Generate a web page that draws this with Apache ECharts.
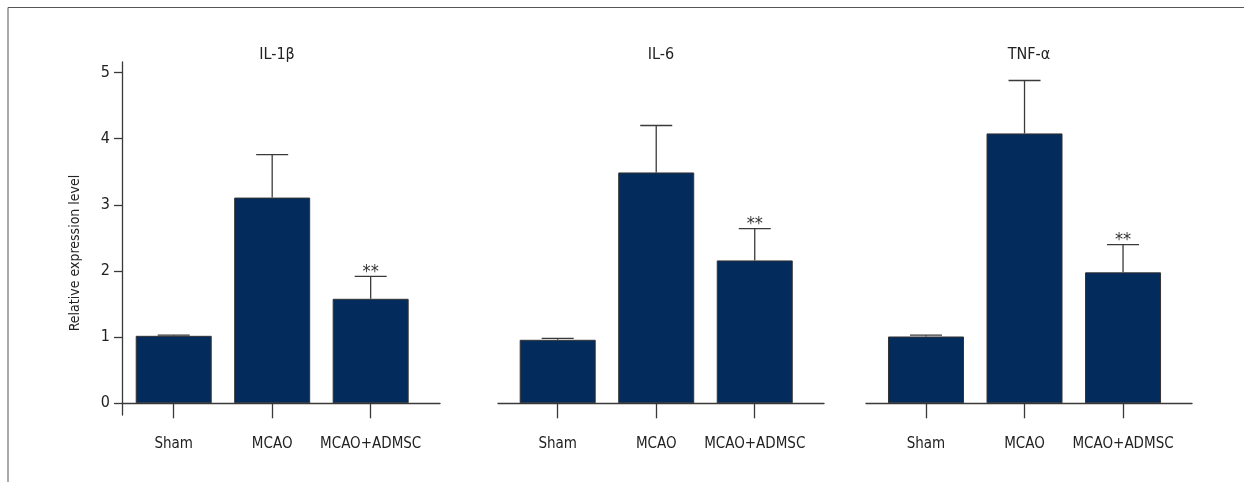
<!DOCTYPE html>
<html>
<head>
<meta charset="utf-8">
<script src="https://cdn.jsdelivr.net/npm/echarts@6/dist/echarts.min.js"></script>
<style>
  html, body { margin: 0; padding: 0; background: #fff; }
  #chart { width: 1244px; height: 482px; }
</style>
</head>
<body>
<div id="chart"></div>
<script>
const categories = ['Sham', 'MCAO', 'MCAO+ADMSC'];
const panelTitles = ['IL-1β', 'IL-6', 'TNF-α'];
const il1bMean = [1.02, 3.11, 1.58];
const il1bUpper = [1.03, 3.76, 1.92];
const il6Mean = [0.96, 3.49, 2.16];
const il6Upper = [0.98, 4.20, 2.64];
const tnfMean = [1.01, 4.08, 1.98];
const tnfUpper = [1.03, 4.88, 2.40];
const significance = ['', '', '**'];
const yTicks = [0, 1, 2, 3, 4, 5];

const FONT = "'Liberation Sans Narrow', 'DejaVu Sans Condensed', 'Roboto', sans-serif";
const AXIS_COLOR = '#3a3a3a';
const BAR_COLOR = '#032b5c';

const means = [il1bMean, il6Mean, tnfMean];
const uppers = [il1bUpper, il6Upper, tnfUpper];

// pixel layout of the three panels
const grids = [
    { left: 122, width: 318, xMin: -0.525, xMax: 2.704 },
    { left: 498, width: 326, xMin: -0.606, xMax: 2.703 },
    { left: 866, width: 326, xMin: -0.609, xMax: 2.700 }
];
const titleX = [272, 656, 1024];

const chart = echarts.init(document.getElementById('chart'));

function errorBarRender(params, api) {
    const x = api.value(0);
    const top = api.coord([x, api.value(2)]);
    const base = api.coord([x, api.value(1)]);
    const capHalf = 16;
    const style = { stroke: AXIS_COLOR, lineWidth: 1.3 };
    const children = [
        { type: 'line', shape: { x1: base[0], y1: base[1], x2: top[0], y2: top[1] }, style },
        { type: 'line', shape: { x1: top[0] - capHalf, y1: top[1], x2: top[0] + capHalf, y2: top[1] }, style }
    ];
    const star = significance[api.value(3)];
    if (star) {
        children.push({
            type: 'text',
            x: top[0], y: top[1] - 4,
            style: { text: star, fill: '#333', font: '18px ' + FONT, align: 'center', verticalAlign: 'middle' }
        });
    }
    return { type: 'group', children };
}

const option = {
    animation: false,
    backgroundColor: '#fff',
    title: panelTitles.map((t, i) => ({
        text: t,
        left: titleX[i],
        top: 42,
        textAlign: 'center',
        textStyle: { fontFamily: FONT, fontSize: 16, fontWeight: 'normal', color: '#222' }
    })),
    grid: grids.map(g => ({ left: g.left, width: g.width, top: 62, bottom: 67 })),
    xAxis: grids.map((g, i) => ({
        type: 'value',
        gridIndex: i,
        min: g.xMin,
        max: g.xMax,
        splitLine: { show: false },
        axisLine: { show: true, onZero: true, lineStyle: { color: AXIS_COLOR, width: 1.3 } },
        axisTick: { show: true, length: 15, customValues: [0, 1, 2], lineStyle: { color: AXIS_COLOR, width: 1.3 } },
        axisLabel: {
            customValues: [0, 1, 2],
            margin: 22,
            fontFamily: FONT, fontSize: 15, color: '#222',
            formatter: v => categories[Math.round(v)]
        }
    })),
    yAxis: grids.map((g, i) => ({
        type: 'value',
        gridIndex: i,
        min: -0.177,
        max: 5.16,
        show: i === 0,
        splitLine: { show: false },
        axisLine: { show: true, onZero: false, lineStyle: { color: AXIS_COLOR, width: 1.3 } },
        axisTick: { show: true, length: 8, customValues: yTicks, lineStyle: { color: AXIS_COLOR, width: 1.3 } },
        axisLabel: { customValues: yTicks, margin: 12, fontFamily: FONT, fontSize: 16, color: '#222' }
    })),
    graphic: [
        {
            type: 'polyline',
            shape: { points: [[8, 482], [8, 7.5], [1244, 7.5]] },
            style: { stroke: '#555', lineWidth: 1, fill: null }
        },
        {
            type: 'text',
            x: 75, y: 253,
            rotation: Math.PI / 2,
            style: { text: 'Relative expression level', font: '14px ' + FONT, fill: '#222', align: 'center', verticalAlign: 'middle' }
        }
    ],
    series: []
};

means.forEach((m, i) => {
    option.series.push({
        type: 'bar',
        xAxisIndex: i,
        yAxisIndex: i,
        barWidth: 76,
        data: m.map((v, k) => [k, v]),
        itemStyle: { color: BAR_COLOR, borderColor: '#333', borderWidth: 1 }
    });
    option.series.push({
        type: 'custom',
        xAxisIndex: i,
        yAxisIndex: i,
        renderItem: errorBarRender,
        data: m.map((v, k) => [k, v, uppers[i][k], k]),
        z: 3
    });
});

chart.setOption(option);
</script>
</body>
</html>
